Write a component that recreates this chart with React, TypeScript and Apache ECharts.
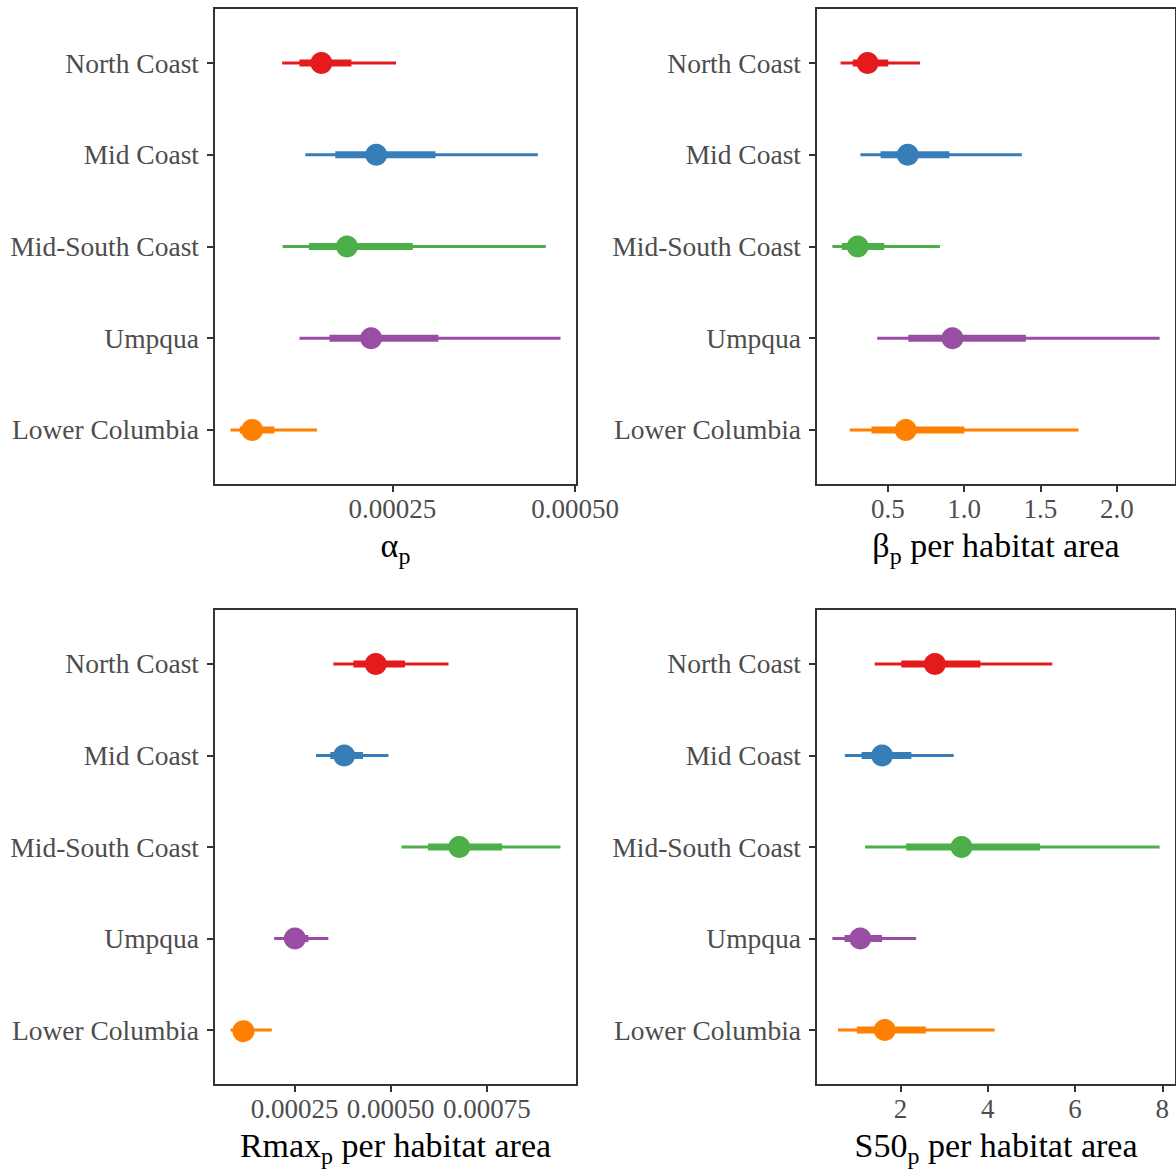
import React, { useEffect, useRef } from "react";
import * as echarts from "echarts";

const categories = ["North Coast", "Mid Coast", "Mid-South Coast", "Umpqua", "Lower Columbia"];
const colors = ["#E41A1C", "#377EB8", "#4DAF4A", "#984EA3", "#FF7F00"];
const rowIndex = [0, 1, 2, 3, 4];

// alpha_p
const alphaMedian = [0.000153, 0.000228, 0.000188, 0.000221, 0.0000583];
const alphaInner = [[0.000123, 0.000194], [0.000172, 0.000309], [0.000136, 0.000278], [0.000164, 0.000313], [0.0000414, 0.0000888]];
const alphaOuter = [[0.0000993, 0.000255], [0.000131, 0.000449], [0.0001, 0.00046], [0.000123, 0.00048], [0.0000287, 0.000147]];
const alphaTicks = [0.00025, 0.0005];

// beta_p per habitat area
const betaMedian = [0.367, 0.63, 0.302, 0.923, 0.617];
const betaInner = [[0.27, 0.502], [0.452, 0.903], [0.198, 0.476], [0.634, 1.404], [0.393, 1.001]];
const betaOuter = [[0.19, 0.71], [0.32, 1.378], [0.136, 0.842], [0.43, 2.281], [0.25, 1.75]];
const betaTicks = [0.5, 1.0, 1.5, 2.0];

// Rmax_p per habitat area
const rmaxMedian = [0.000461, 0.000379, 0.000678, 0.000251, 0.000117];
const rmaxInner = [[0.000403, 0.000537], [0.000343, 0.000428], [0.000597, 0.000789], [0.000224, 0.000286], [0.0000941, 0.000143]];
const rmaxOuter = [[0.000351, 0.00065], [0.000306, 0.000494], [0.000528, 0.000941], [0.000197, 0.000338], [0.0000837, 0.000191]];
const rmaxTicks = [0.00025, 0.0005, 0.00075];

// S50_p per habitat area
const s50Median = [2.79, 1.58, 3.4, 1.08, 1.64];
const s50Inner = [[2.02, 3.83], [1.11, 2.25], [2.13, 5.2], [0.72, 1.58], [1.0, 2.58]];
const s50Outer = [[1.41, 5.48], [0.727, 3.22], [1.19, 7.94], [0.44, 2.36], [0.57, 4.16]];
const s50Ticks = [2, 4, 6, 8];

const FONT = "Liberation Serif";
const AXIS_COLOR = "#333333";
const LABEL_COLOR = "#4D4D4D";

function expand(lo: number, hi: number) {
  const r = hi - lo;
  return [lo - 0.05 * r, hi + 0.05 * r];
}

export default function App() {
  const ref = useRef<HTMLDivElement>(null);
  useEffect(() => {
    if (!ref.current) return;
    const chart = echarts.init(ref.current, null, { renderer: "svg" });

    const panels = [
      { med: alphaMedian, inner: alphaInner, outer: alphaOuter, ticks: alphaTicks, fmt: (v: number) => v.toFixed(5), main: "α", tail: "", left: 214, top: 8 },
      { med: betaMedian, inner: betaInner, outer: betaOuter, ticks: betaTicks, fmt: (v: number) => v.toFixed(1), main: "β", tail: " per habitat area", left: 816, top: 8 },
      { med: rmaxMedian, inner: rmaxInner, outer: rmaxOuter, ticks: rmaxTicks, fmt: (v: number) => v.toFixed(5), main: "Rmax", tail: " per habitat area", left: 214, top: 609 },
      { med: s50Median, inner: s50Inner, outer: s50Outer, ticks: s50Ticks, fmt: (v: number) => String(v), main: "S50", tail: " per habitat area", left: 816, top: 609 },
    ];

    const grids: any[] = [];
    const xAxes: any[] = [];
    const yAxes: any[] = [];
    const series: any[] = [];

    panels.forEach((p, i) => {
      const lows = p.outer.map((d) => d[0]);
      const highs = p.outer.map((d) => d[1]);
      const [mn, mx] = expand(Math.min(...lows), Math.max(...highs));
      grids.push({
        left: p.left,
        top: p.top,
        width: 363,
        height: 477,
        show: true,
        borderColor: AXIS_COLOR,
        borderWidth: 2,
        backgroundColor: "transparent",
      });
      const nameStr = p.tail ? `{m|${p.main}}{s|p}{m|${p.tail}}` : `{m|${p.main}}{s|p}`;
      xAxes.push({
        type: "value",
        gridIndex: i,
        min: mn,
        max: mx,
        splitLine: { show: false },
        axisLine: { show: true, onZero: false, lineStyle: { color: AXIS_COLOR, width: 2 } },
        axisTick: { show: true, length: 7, customValues: p.ticks, lineStyle: { color: AXIS_COLOR, width: 2 } },
        axisLabel: {
          customValues: p.ticks,
          formatter: p.fmt,
          fontSize: 27,
          color: LABEL_COLOR,
          fontFamily: FONT,
          margin: 10,
        },
        name: nameStr,
        nameLocation: "middle",
        nameGap: 37,
        nameTextStyle: {
          rich: {
            m: { fontSize: 34, fontFamily: FONT, color: "#000000" },
            s: { fontSize: 24, fontFamily: FONT, color: "#000000", padding: [22, 0, 0, 0] },
          },
        },
      });
      yAxes.push({
        type: "value",
        gridIndex: i,
        min: -0.6,
        max: 4.6,
        inverse: true,
        splitLine: { show: false },
        axisLine: { show: true, onZero: false, lineStyle: { color: AXIS_COLOR, width: 2 } },
        axisTick: { show: true, length: 7, customValues: rowIndex, lineStyle: { color: AXIS_COLOR, width: 2 } },
        axisLabel: {
          customValues: rowIndex,
          formatter: (v: number) => categories[Math.round(v)],
          fontSize: 27.5,
          color: LABEL_COLOR,
          fontFamily: FONT,
          margin: 15,
        },
      });
      const data = rowIndex.map((r) => [r, p.outer[r][0], p.inner[r][0], p.med[r], p.inner[r][1], p.outer[r][1], r]);
      series.push({
        type: "custom",
        xAxisIndex: i,
        yAxisIndex: i,
        encode: { x: [1, 2, 3, 4, 5], y: 0 },
        data,
        renderItem: (params: any, api: any) => {
          const y = api.value(0);
          const c = colors[api.value(6)];
          const a = api.coord([api.value(1), y]);
          const b = api.coord([api.value(2), y]);
          const m = api.coord([api.value(3), y]);
          const d = api.coord([api.value(4), y]);
          const e = api.coord([api.value(5), y]);
          return {
            type: "group",
            children: [
              { type: "line", shape: { x1: a[0], y1: a[1], x2: e[0], y2: e[1] }, style: { stroke: c, lineWidth: 3 } },
              { type: "line", shape: { x1: b[0], y1: b[1], x2: d[0], y2: d[1] }, style: { stroke: c, lineWidth: 7 } },
              { type: "circle", shape: { cx: m[0], cy: m[1], r: 11 }, style: { fill: c } },
            ],
          };
        },
      });
    });

    chart.setOption({
      animation: false,
      backgroundColor: "#ffffff",
      grid: grids,
      xAxis: xAxes,
      yAxis: yAxes,
      series,
    });
    return () => chart.dispose();
  }, []);
  return <div ref={ref} style={{ position: "absolute", left: 0, top: 0, width: 1176, height: 1169 }} />;
}
